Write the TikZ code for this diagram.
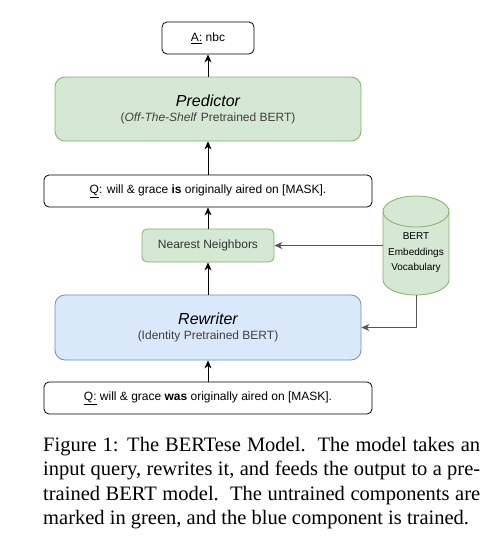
\documentclass[tikz,border=0pt]{standalone}
\usepackage{fontspec}
\setmainfont{Liberation Sans}
\newfontfamily\capfont{Liberation Serif}
\usetikzlibrary{arrows.meta,shapes.geometric}
\definecolor{gfill}{HTML}{D5E8D4}
\definecolor{gdraw}{HTML}{82B366}
\definecolor{bfill}{HTML}{DAE8FC}
\definecolor{bdraw}{HTML}{6C8EBF}
\definecolor{garrow}{HTML}{555555}
\begin{document}
\begin{tikzpicture}[x=1pt,y=-1pt,
  txt/.style={font=\fontsize{12}{14}\selectfont},
  plainbox/.style={draw=black,rounded corners=5pt,fill=white,inner sep=0pt,line width=0.8pt},
  greenbox/.style={draw=gdraw,fill=gfill,rounded corners=10pt,inner sep=0pt,line width=0.8pt},
  bluebox/.style={draw=bdraw,fill=bfill,rounded corners=10pt,inner sep=0pt,line width=0.8pt},
  arr/.style={-{Stealth[length=8pt,width=7pt,inset=2.5pt]},line width=0.8pt,black},
  garr/.style={-{Stealth[length=8pt,width=7pt,inset=2.5pt]},line width=1pt,garrow}]
\useasboundingbox (0,0) rectangle (498,538);
\fill[white] (0,0) rectangle (498,538);

% answer
\node[plainbox,minimum width=92pt,minimum height=32pt,txt] (ans) at (208,38) {\underline{A:} nbc};
% predictor
\node[greenbox,minimum width=306pt,minimum height=64pt,align=center] (pred) at (208,109)
  {{\fontsize{16}{18}\selectfont\itshape Predictor}\\[3pt]{\fontsize{12}{14}\selectfont\color{black!75}(\textit{Off-The-Shelf} Pretrained BERT)}};
% query 1
\node[plainbox,minimum width=328pt,minimum height=32pt,txt] (q1) at (208,191)
  {\underline{Q}: will \& grace \textbf{is} originally aired on [MASK].};
% nearest neighbors
\node[greenbox,rounded corners=5pt,minimum width=132pt,minimum height=33pt,txt,text=black!80] (nn) at (208,245.5) {Nearest Neighbors};
% rewriter
\node[bluebox,minimum width=306pt,minimum height=65pt,align=center] (rew) at (208,327.5)
  {{\fontsize{16}{18}\selectfont\itshape Rewriter}\\[3pt]{\fontsize{12}{14}\selectfont\color{black!75}(Identity Pretrained BERT)}};
% query 2
\node[plainbox,minimum width=328pt,minimum height=32pt,txt] (q2) at (208,398)
  {\underline{Q:} will \& grace \textbf{was} originally aired on [MASK].};

% cylinder
\node[minimum width=66pt,minimum height=99pt,inner sep=0pt] (cyl) at (416,245.5) {};
\filldraw[draw=gdraw,fill=gfill,line width=0.8pt]
  (383,211.5) -- (383,279.5) arc[start angle=180,end angle=360,x radius=33pt,y radius=15.5pt]
  -- (449,211.5) arc[start angle=0,end angle=180,x radius=33pt,y radius=15.5pt] -- cycle;
\draw[draw=gdraw,line width=0.8pt] (383,211.5) arc[start angle=180,end angle=360,x radius=33pt,y radius=15.5pt];
\node[align=center,font=\fontsize{10}{15.5}\selectfont] (cyltext) at (416,253) {BERT\\Embeddings\\Vocabulary};

% connectors
\draw[arr] (pred.north) -- (ans.south);
\draw[arr] (q1.north) -- (pred.south);
\draw[arr] (nn.north) -- (q1.south);
\draw[arr] (rew.north) -- (nn.south);
\draw[arr] (q2.north) -- (rew.south);
\draw[garr] (cyl.west) -- (nn.east);
\draw[garr] (cyl.south) |- (rew.east);

% caption
\node[anchor=north west,inner sep=0pt,text width=437pt,align=justify,
  font=\capfont\fontsize{20.5}{24.3}\selectfont] (cap) at (43,437)
  {Figure 1: The BERTese Model.\ \ The model takes an\linebreak input query, rewrites it, and feeds the output to a pre-\linebreak trained BERT model.\ \ The untrained components are\linebreak marked in green, and the blue component is trained.};
\end{tikzpicture}
\end{document}
